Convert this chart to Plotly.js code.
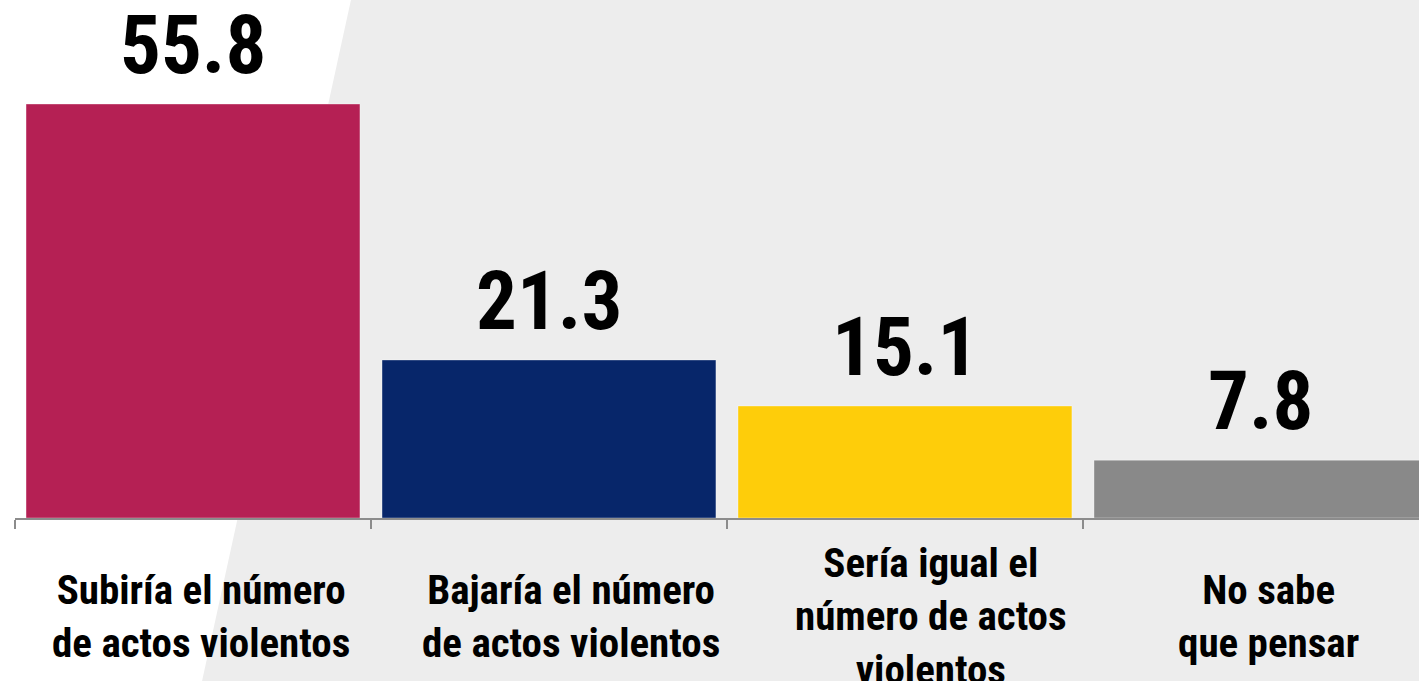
<!DOCTYPE html>
<html>
<head>
<meta charset="utf-8">
<script src="https://cdn.plot.ly/plotly-3.0.1.min.js"></script>
<style>
  html, body { margin: 0; padding: 0; background: #ededed; }
  #chart { width: 1419px; height: 681px; }
</style>
</head>
<body>
<div id="chart"></div>
<script>
// ---- Data ----
const categories = ["cat1", "cat2", "cat3", "cat4"];
const categoryLabels = [
  "Subiría el número<br>de actos violentos",
  "Bajaría el número<br>de actos violentos",
  "Sería igual el<br>número de actos<br>violentos",
  "No sabe<br>que pensar"
];
const values = [55.8, 21.3, 15.1, 7.8];
const barColors = ["#B52054", "#07266A", "#FECD0A", "#898989"];

// ---- Style / layout constants ----
const FONT = '"Liberation Sans Narrow", "Arial Narrow", "Roboto Condensed", "Liberation Sans", Arial, sans-serif';
const labelXShift = [8, 22, 26, 8];

const trace = {
  type: 'bar',
  x: categories,
  y: values,
  marker: {
    color: barColors,
    line: { color: 'rgba(255,255,255,0.35)', width: 1 }
  },
  hoverinfo: 'none'
};

const valueAnnotations = categories.map((c, i) => ({
  x: c, y: values[i], xref: 'x', yref: 'y',
  text: values[i].toFixed(1),
  showarrow: false,
  yanchor: 'bottom',
  yshift: 9,
  font: { family: FONT, size: 81, color: '#000000', weight: 'bold' }
}));

const categoryAnnotations = categories.map((c, i) => ({
  x: c, y: -0.1895, xref: 'x', yref: 'paper',
  text: categoryLabels[i],
  showarrow: false,
  yanchor: 'middle',
  xanchor: 'center',
  align: 'center',
  xshift: labelXShift[i],
  font: { family: FONT, size: 41, color: '#000000', weight: 'bold' }
}));

const layout = {
  width: 1419,
  height: 681,
  margin: { l: 15, r: 0, t: 0, b: 163, pad: 0 },
  paper_bgcolor: '#ededed',
  plot_bgcolor: 'rgba(0,0,0,0)',
  showlegend: false,
  bargap: 0.062,
  xaxis: {
    type: 'category',
    range: [-0.5, 3.444],
    showline: true,
    linecolor: '#8c8c8c',
    linewidth: 2,
    ticks: 'outside',
    tickson: 'boundaries',
    ticklen: 9,
    tickwidth: 2,
    tickcolor: '#8c8c8c',
    showticklabels: false,
    showgrid: false,
    zeroline: false,
    fixedrange: true
  },
  yaxis: {
    range: [0, 69.82],
    visible: false,
    showgrid: false,
    zeroline: false,
    fixedrange: true
  },
  shapes: [{
    type: 'path',
    xref: 'paper', yref: 'paper',
    path: 'M -0.02,1.01 L 0.2401,1.01 L 0.1320,-0.33 L -0.02,-0.33 Z',
    fillcolor: '#ffffff',
    line: { width: 0 },
    layer: 'below'
  }],
  annotations: valueAnnotations.concat(categoryAnnotations)
};

Plotly.newPlot('chart', [trace], layout, { displayModeBar: false, staticPlot: true });
</script>
</body>
</html>
